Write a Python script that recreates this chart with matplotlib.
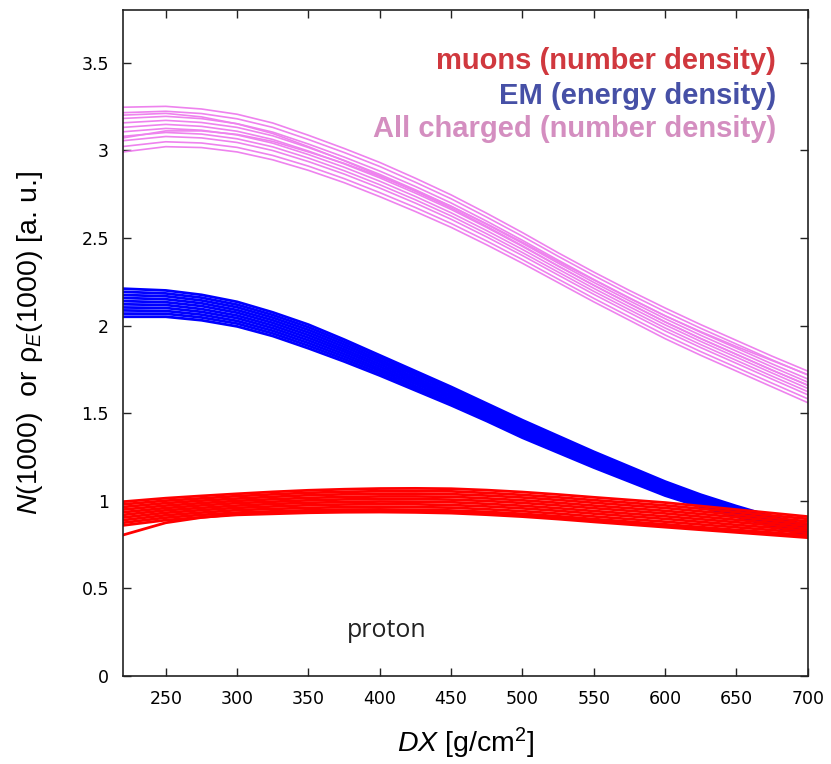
import matplotlib
matplotlib.use("Agg")
import matplotlib.pyplot as plt

plt.rcParams['mathtext.fontset'] = 'custom'
plt.rcParams['mathtext.rm'] = 'Liberation Sans'
plt.rcParams['mathtext.it'] = 'Liberation Sans:italic'
plt.rcParams['mathtext.bf'] = 'Liberation Sans:bold'

# DX sample points [g/cm^2]
dx = [220, 250, 275, 300, 325, 350, 375, 400, 425, 450,
      475, 500, 525, 550, 575, 600, 625, 650, 675, 700]

# All charged (number density) curves
charged = [
    [2.990, 3.020, 3.015, 2.990, 2.945, 2.885, 2.815, 2.735, 2.650, 2.560, 2.460, 2.355, 2.245, 2.135, 2.030, 1.925, 1.830, 1.740, 1.650, 1.560],
    [3.021, 3.048, 3.041, 3.016, 2.970, 2.909, 2.838, 2.758, 2.673, 2.582, 2.482, 2.376, 2.265, 2.155, 2.050, 1.946, 1.851, 1.761, 1.671, 1.582],
    [3.054, 3.078, 3.070, 3.044, 2.998, 2.935, 2.864, 2.784, 2.698, 2.606, 2.505, 2.399, 2.288, 2.178, 2.073, 1.969, 1.874, 1.784, 1.694, 1.605],
    [3.079, 3.101, 3.092, 3.065, 3.019, 2.955, 2.883, 2.803, 2.717, 2.625, 2.523, 2.416, 2.305, 2.195, 2.090, 1.986, 1.891, 1.801, 1.711, 1.623],
    [3.105, 3.124, 3.114, 3.087, 3.040, 2.975, 2.903, 2.823, 2.736, 2.643, 2.541, 2.434, 2.322, 2.212, 2.107, 2.004, 1.909, 1.819, 1.729, 1.641],
    [3.130, 3.147, 3.136, 3.108, 3.061, 2.995, 2.922, 2.842, 2.755, 2.662, 2.559, 2.451, 2.339, 2.229, 2.124, 2.021, 1.926, 1.836, 1.746, 1.659],
    [3.156, 3.170, 3.158, 3.130, 3.082, 3.015, 2.942, 2.862, 2.774, 2.680, 2.577, 2.469, 2.356, 2.246, 2.141, 2.039, 1.944, 1.854, 1.764, 1.677],
    [3.181, 3.193, 3.180, 3.151, 3.103, 3.035, 2.961, 2.881, 2.793, 2.699, 2.595, 2.486, 2.373, 2.263, 2.158, 2.056, 1.961, 1.871, 1.781, 1.695],
    [3.214, 3.222, 3.209, 3.179, 3.130, 3.061, 2.987, 2.907, 2.817, 2.723, 2.618, 2.509, 2.395, 2.285, 2.180, 2.079, 1.984, 1.894, 1.804, 1.718],
    [3.245, 3.250, 3.235, 3.205, 3.155, 3.085, 3.010, 2.930, 2.840, 2.745, 2.640, 2.530, 2.415, 2.305, 2.200, 2.100, 2.005, 1.915, 1.825, 1.740],
    [3.200, 3.210, 3.190, 3.150, 3.095, 3.020, 2.940, 2.855, 2.765, 2.670, 2.565, 2.455, 2.340, 2.230, 2.125, 2.020, 1.925, 1.835, 1.745, 1.660],
    [3.070, 3.110, 3.110, 3.090, 3.050, 2.990, 2.925, 2.850, 2.770, 2.680, 2.580, 2.475, 2.365, 2.260, 2.155, 2.055, 1.965, 1.880, 1.800, 1.720],
]

# EM (energy density) curves
em = [
    [2.050, 2.050, 2.030, 1.995, 1.940, 1.870, 1.795, 1.715, 1.630, 1.545, 1.455, 1.360, 1.275, 1.190, 1.110, 1.030, 0.965, 0.910, 0.855, 0.800],
    [2.068, 2.067, 2.046, 2.011, 1.955, 1.885, 1.809, 1.728, 1.642, 1.557, 1.466, 1.371, 1.286, 1.200, 1.119, 1.039, 0.973, 0.917, 0.861, 0.807],
    [2.086, 2.083, 2.062, 2.026, 1.970, 1.900, 1.823, 1.741, 1.654, 1.568, 1.477, 1.382, 1.296, 1.210, 1.129, 1.048, 0.981, 0.923, 0.867, 0.813],
    [2.103, 2.100, 2.078, 2.042, 1.985, 1.915, 1.837, 1.753, 1.667, 1.580, 1.488, 1.393, 1.307, 1.220, 1.138, 1.057, 0.988, 0.930, 0.873, 0.820],
    [2.121, 2.117, 2.094, 2.057, 2.000, 1.930, 1.851, 1.766, 1.679, 1.592, 1.499, 1.404, 1.317, 1.230, 1.148, 1.066, 0.996, 0.937, 0.879, 0.827],
    [2.139, 2.133, 2.111, 2.073, 2.015, 1.945, 1.864, 1.779, 1.691, 1.603, 1.511, 1.416, 1.328, 1.240, 1.157, 1.074, 1.004, 0.943, 0.886, 0.833],
    [2.157, 2.150, 2.127, 2.088, 2.030, 1.960, 1.878, 1.792, 1.703, 1.615, 1.522, 1.427, 1.338, 1.250, 1.167, 1.083, 1.012, 0.950, 0.892, 0.840],
    [2.174, 2.167, 2.143, 2.104, 2.045, 1.975, 1.892, 1.804, 1.716, 1.627, 1.533, 1.438, 1.349, 1.260, 1.176, 1.092, 1.019, 0.957, 0.898, 0.847],
    [2.192, 2.183, 2.159, 2.119, 2.060, 1.990, 1.906, 1.817, 1.728, 1.638, 1.544, 1.449, 1.359, 1.270, 1.186, 1.101, 1.027, 0.963, 0.904, 0.853],
    [2.210, 2.200, 2.175, 2.135, 2.075, 2.005, 1.920, 1.830, 1.740, 1.650, 1.555, 1.460, 1.370, 1.280, 1.195, 1.110, 1.035, 0.970, 0.910, 0.860],
]

# muons (number density) curves
muons = [
    [0.860, 0.890, 0.906, 0.920, 0.926, 0.932, 0.935, 0.936, 0.934, 0.930, 0.921, 0.910, 0.896, 0.880, 0.865, 0.850, 0.835, 0.820, 0.805, 0.790],
    [0.875, 0.904, 0.920, 0.933, 0.940, 0.946, 0.950, 0.951, 0.949, 0.945, 0.937, 0.926, 0.912, 0.896, 0.881, 0.866, 0.850, 0.834, 0.819, 0.803],
    [0.890, 0.918, 0.933, 0.947, 0.954, 0.960, 0.964, 0.966, 0.964, 0.961, 0.952, 0.941, 0.927, 0.911, 0.896, 0.881, 0.865, 0.849, 0.833, 0.817],
    [0.905, 0.932, 0.947, 0.960, 0.968, 0.975, 0.979, 0.981, 0.980, 0.976, 0.968, 0.957, 0.943, 0.927, 0.912, 0.897, 0.880, 0.863, 0.847, 0.830],
    [0.920, 0.946, 0.960, 0.973, 0.982, 0.989, 0.993, 0.996, 0.995, 0.992, 0.983, 0.972, 0.958, 0.942, 0.927, 0.912, 0.895, 0.878, 0.861, 0.843],
    [0.935, 0.959, 0.974, 0.987, 0.995, 1.003, 1.008, 1.010, 1.010, 1.007, 0.999, 0.988, 0.974, 0.958, 0.943, 0.928, 0.910, 0.892, 0.874, 0.857],
    [0.950, 0.973, 0.987, 1.000, 1.009, 1.017, 1.022, 1.025, 1.025, 1.023, 1.014, 1.003, 0.989, 0.973, 0.958, 0.943, 0.925, 0.907, 0.888, 0.870],
    [0.965, 0.987, 1.001, 1.013, 1.023, 1.032, 1.037, 1.040, 1.041, 1.038, 1.030, 1.019, 1.005, 0.989, 0.974, 0.959, 0.940, 0.921, 0.902, 0.883],
    [0.980, 1.001, 1.014, 1.027, 1.037, 1.046, 1.051, 1.055, 1.056, 1.054, 1.045, 1.034, 1.020, 1.004, 0.989, 0.974, 0.955, 0.936, 0.916, 0.897],
    [0.995, 1.015, 1.028, 1.040, 1.051, 1.060, 1.066, 1.070, 1.071, 1.069, 1.061, 1.050, 1.036, 1.020, 1.005, 0.990, 0.970, 0.950, 0.930, 0.910],
    [0.805, 0.875, 0.905, 0.925, 0.935, 0.940, 0.943, 0.944, 0.942, 0.938, 0.930, 0.920, 0.906, 0.890, 0.875, 0.860, 0.845, 0.830, 0.815, 0.800],
]

xticks = [250, 300, 350, 400, 450, 500, 550, 600, 650, 700]
yticks = [0, 0.5, 1, 1.5, 2, 2.5, 3, 3.5]
ytick_labels = ["0", "0.5", "1", "1.5", "2", "2.5", "3", "3.5"]

fig = plt.figure(figsize=(8.31, 7.64), dpi=100)
ax = fig.add_axes([0.148, 0.115, 0.824, 0.872])

for c in charged:
    ax.plot(dx, c, color='#ee82ee', lw=1.2)
for c in em:
    ax.plot(dx, c, color='#0000ff', lw=2.0)
for c in muons:
    ax.plot(dx, c, color='#ff0000', lw=2.0)

ax.set_xlim(220, 700)
ax.set_ylim(0, 3.8)
ax.set_xticks(xticks)
ax.set_xticklabels([str(t) for t in xticks])
ax.set_yticks(yticks)
ax.set_yticklabels(ytick_labels)
ax.tick_params(direction='in', length=6, width=1.0, top=True, right=True,
               labelsize=12.5, pad=10, colors='#222222', labelcolor='black')
for s in ax.spines.values():
    s.set_linewidth(1.2)
    s.set_color('#222222')

ax.set_xlabel(r"$\it{DX}$ [g/cm$^{2}$]", fontsize=20.5, family='Liberation Sans', labelpad=13)
ax.set_ylabel(r"$\it{N}$(1000)  or ρ$_{\it{E}}$(1000) [a. u.]", fontsize=20.5,
              family='Liberation Sans', labelpad=26)

lx = 678
ax.text(lx, 3.51, "muons (number density)", color='#d0383e', fontsize=21,
        fontweight='bold', family='Liberation Sans', ha='right', va='center')
ax.text(lx, 3.31, "EM (energy density)", color='#4650a6', fontsize=21,
        fontweight='bold', family='Liberation Sans', ha='right', va='center')
ax.text(lx, 3.12, "All charged (number density)", color='#d48ec0', fontsize=21,
        fontweight='bold', family='Liberation Sans', ha='right', va='center')

ax.text(405, 0.26, "proton", fontsize=18, family='Open Sans', ha='center', va='center',
        color='#222222')

fig.savefig("out.png", dpi=100)
